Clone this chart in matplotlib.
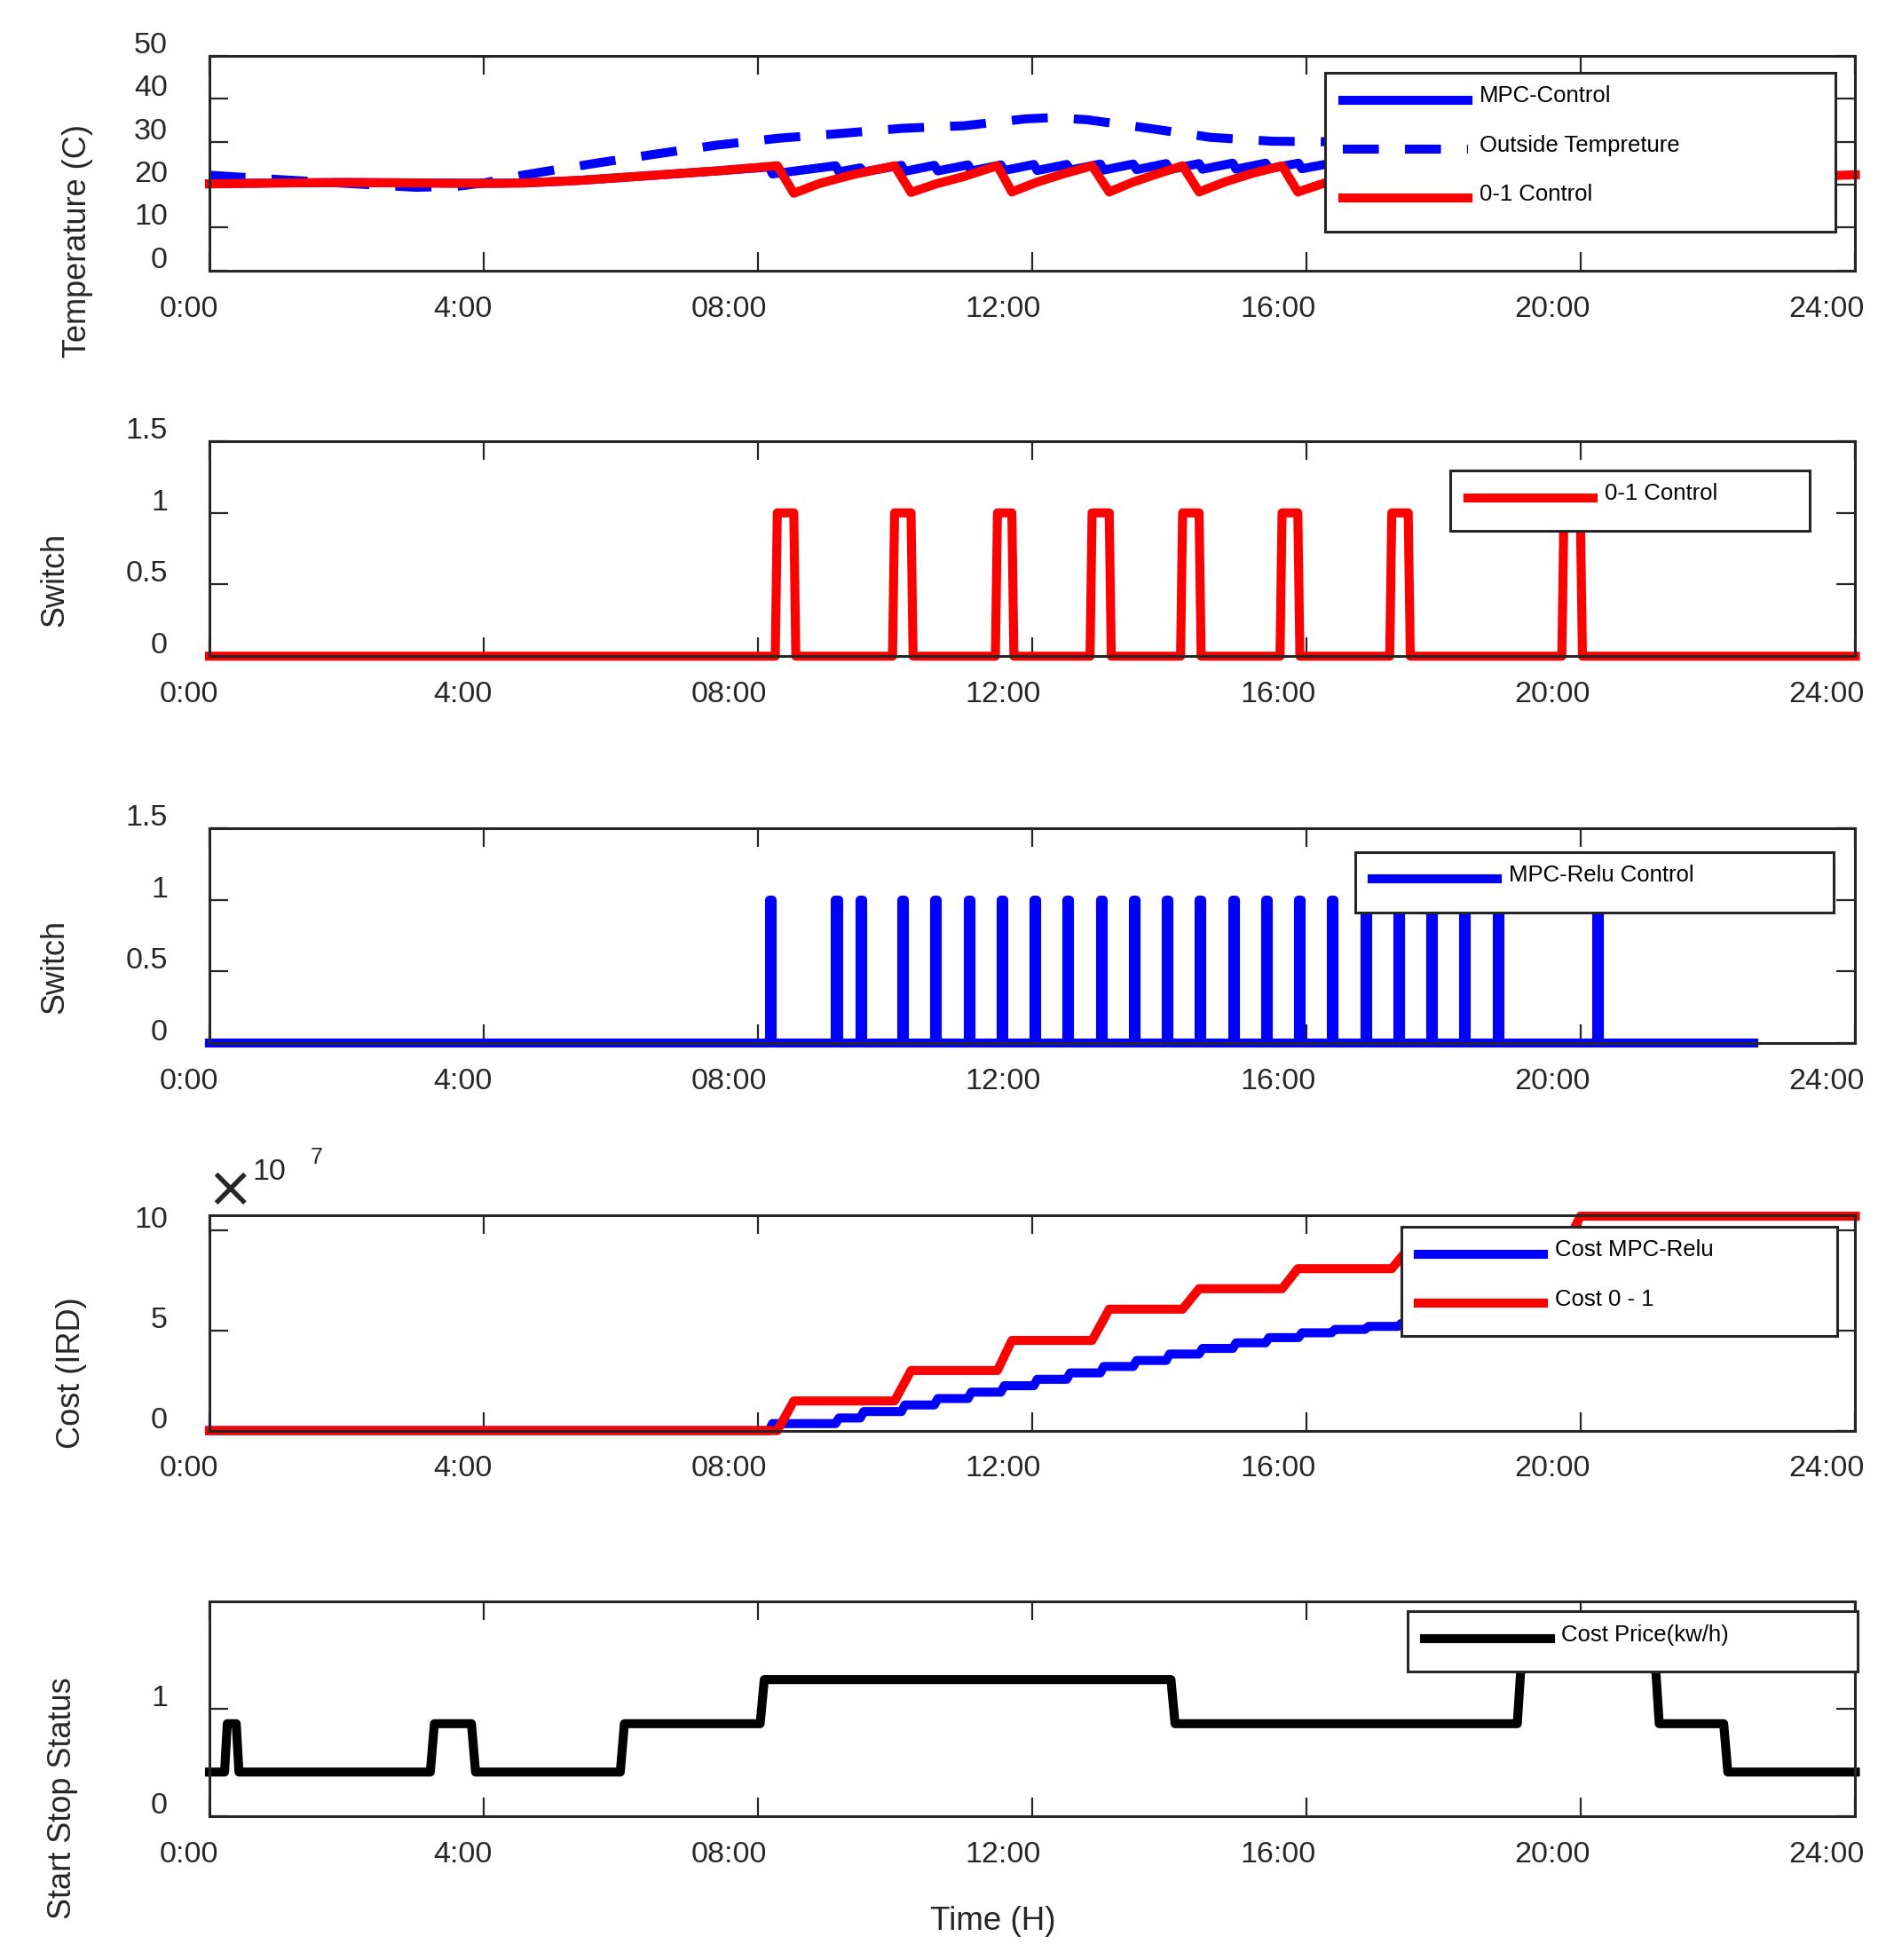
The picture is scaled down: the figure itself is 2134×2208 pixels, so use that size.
import matplotlib
matplotlib.use('Agg')
import matplotlib.pyplot as plt
from matplotlib.transforms import ScaledTranslation

plt.rcParams['font.family'] = ['Liberation Sans', 'DejaVu Sans']

EDGE = '#262626'

hour_ticks = [0, 4, 8, 12, 16, 20, 24]
hour_labels = ['0:00', '4:00', '08:00', '12:00', '16:00', '20:00', '24:00']

# room temperature with the 0-1 controller (breakpoints)
red_temp_t = [0, 1, 2, 3, 4, 4.6, 5.4, 6.5, 7.4, 8.28, 8.52, 8.9, 9.4, 9.99,
              10.23, 10.6, 11.0, 11.49, 11.70, 12.05, 12.45, 12.87, 13.12,
              13.45, 13.8, 14.19, 14.43, 14.8, 15.2, 15.64, 15.87, 16.3,
              16.75, 17.24, 17.48, 17.9, 18.6, 19.75, 19.99, 20.6, 22.0, 24.0]
red_temp = [20.2, 20.4, 20.5, 20.4, 20.3, 20.4, 21.0, 22.2, 23.2, 24.4, 18.0,
            20.3, 22.4, 24.4, 18.2, 20.2, 21.9, 24.4, 18.3, 20.5, 22.5, 24.4,
            18.3, 20.5, 22.4, 24.4, 18.3, 20.6, 22.6, 24.4, 18.3, 20.6, 22.5,
            24.4, 18.3, 20.4, 22.6, 24.4, 18.3, 19.8, 21.2, 22.3]

# outside temperature
out_t = [0, 1.1, 2.0, 3.0, 3.6, 4.0, 4.6, 5.6, 6.5, 7.4, 8.3, 9.2, 10.1,
         11.0, 11.9, 12.3, 12.8, 13.7, 14.6, 15.5, 16.2, 17.0, 18.5, 20.0, 22.5]
out_temp = [22.2, 21.1, 20.3, 19.4, 19.6, 20.4, 22.3, 24.9, 27.1, 29.2, 30.8,
            31.9, 33.1, 33.7, 35.3, 35.6, 35.1, 33.1, 31.0, 30.1, 30.0, 29.8,
            28.5, 27.0, 24.0]

# MPC-Relu switching instants (h), temperature just before / after each one
mpc_on = [8.16, 9.13, 9.49, 10.09, 10.57, 11.06, 11.54, 12.02, 12.50, 12.99,
          13.47, 13.95, 14.43, 14.92, 15.40, 15.88, 16.36, 16.85, 17.33,
          17.81, 18.29, 18.78, 20.23]
mpc_peak = [24.1, 24.4, 23.9, 24.5, 24.5, 24.6, 24.6, 24.7, 24.7, 24.8, 24.8,
            24.9, 24.9, 25.0, 25.0, 25.0, 25.0, 25.0, 25.0, 25.0, 25.0, 25.0, 25.3]
mpc_low = [22.5, 23.0, 23.0, 23.1, 23.2, 23.2, 23.3, 23.3, 23.4, 23.4, 23.5,
           23.5, 23.6, 23.6, 23.7, 23.7, 23.7, 23.7, 23.7, 23.7, 23.7, 23.7, 23.7]
mpc_end_t = 22.5
mpc_end_temp = 24.6

# 0-1 controller on / off times (h)
red_on = [8.28, 9.99, 11.49, 12.87, 14.19, 15.64, 17.24, 19.75]
red_off = [8.52, 10.23, 11.70, 13.12, 14.43, 15.87, 17.48, 19.99]

# cumulative cost (x 1e7) after each switching
cost_red = [1.48, 3.0, 4.5, 6.06, 7.08, 8.08, 9.08, 10.7]
cost_mpc = [0.35, 0.63, 0.95, 1.28, 1.6, 1.92, 2.24, 2.56, 2.88, 3.2, 3.5,
            3.82, 4.1, 4.38, 4.64, 4.88, 5.05, 5.2, 5.35, 5.5, 5.65, 5.8, 6.0]

# electricity price schedule
price_t = [0, 0.22, 0.26, 0.39, 0.43, 3.22, 3.28, 3.82, 3.88, 5.99, 6.05,
           8.03, 8.09, 14.02, 14.08, 19.07, 19.13, 21.08, 21.14, 22.08, 22.14, 24]
price = [0.41, 0.41, 0.86, 0.86, 0.41, 0.41, 0.86, 0.86, 0.41, 0.41, 0.86,
         0.86, 1.27, 1.27, 0.86, 0.86, 1.45, 1.45, 0.86, 0.86, 0.41, 0.41]


# --- build polylines from the event lists ---
mpc_t = [t for t in red_temp_t if t < mpc_on[0]]
mpc_temp = [v for t, v in zip(red_temp_t, red_temp) if t < mpc_on[0]]
for t, hi, lo in zip(mpc_on, mpc_peak, mpc_low):
    mpc_t += [t, t + 0.05]
    mpc_temp += [hi, lo]
mpc_t.append(mpc_end_t)
mpc_temp.append(mpc_end_temp)

sw_red_t, sw_red = [0], [0]
for a, b in zip(red_on, red_off):
    sw_red_t += [a - 0.03, a, b, b + 0.03]
    sw_red += [0, 1, 1, 0]
sw_red_t.append(24)
sw_red.append(0)

sw_mpc_t, sw_mpc = [0], [0]
for a in mpc_on:
    sw_mpc_t += [a, a, a + 0.04, a + 0.04]
    sw_mpc += [0, 1, 1, 0]
sw_mpc_t.append(22.52)
sw_mpc.append(0)

c_red_t, c_red = [0], [0]
prev = 0
for a, b, c in zip(red_on, red_off, cost_red):
    c_red_t += [a, b]
    c_red += [prev, c]
    prev = c
c_red_t.append(24)
c_red.append(prev)

c_mpc_t, c_mpc = [0], [0]
prev = 0
for a, c in zip(mpc_on, cost_mpc):
    c_mpc_t += [a, a + 0.05]
    c_mpc += [prev, c]
    prev = c
c_mpc_t.append(22.5)
c_mpc.append(prev)


fig = plt.figure(figsize=(21.34, 22.08), dpi=100)
L, W, H = 0.1106, 0.8690, 0.1097
bottoms = [0.8619, 0.6652, 0.4678, 0.2701, 0.0734]
axs = [fig.add_axes([L, b, W, H]) for b in bottoms]

LW = 7.3
kw = dict(lw=LW, solid_joinstyle='round', clip_on=False)


def style(ax, yticks, ylabels, ylim, ylabel, lab_xy):
    ax.set_xlim(0, 24)
    ax.set_ylim(*ylim)
    ax.set_xticks(hour_ticks)
    ax.set_xticklabels(hour_labels)
    ax.set_yticks(yticks)
    ax.set_yticklabels(ylabels)
    ax.tick_params(direction='in', top=True, right=True, length=15, width=1.6,
                   color=EDGE, labelsize=24.5, labelcolor=EDGE)
    ax.tick_params(axis='x', pad=20)
    ax.tick_params(axis='y', pad=34)
    for s in ax.spines.values():
        s.set_linewidth(2.2)
        s.set_color(EDGE)
    for lab in ax.get_xticklabels():
        lab.set_ha('right')
        lab.set_transform(lab.get_transform() +
                          ScaledTranslation(0.10, 0, fig.dpi_scale_trans))
    for lab in ax.get_yticklabels():
        lab.set_transform(lab.get_transform() +
                          ScaledTranslation(0, 0.15, fig.dpi_scale_trans))
    ax.set_ylabel(ylabel, fontsize=26, va='center', color=EDGE)
    ax.yaxis.set_label_coords(*lab_xy)


def legend(ax, x0, y0, w, h):
    leg = ax.legend(loc='upper left', bbox_to_anchor=(x0, y0, w, h),
                    mode='expand', fontsize=18.5, handlelength=5.5,
                    handleheight=1.4, handletextpad=0.5, borderpad=0.75,
                    labelspacing=1.0, fancybox=False, framealpha=1,
                    edgecolor=EDGE, borderaxespad=0)
    leg.get_frame().set_linewidth(2.2)
    # MATLAB draws the entry text a little above its sample line
    for t in leg.get_texts():
        t.set_transform(t.get_transform() +
                        ScaledTranslation(0, 0.09, fig.dpi_scale_trans))
    return leg


# temperature
ax = axs[0]
ax.plot(mpc_t, mpc_temp, color='b', label='MPC-Control', **kw)
ax.plot(out_t, out_temp, color='b', lw=LW, ls=(0, (4.0, 2.9)),
        dash_capstyle='butt', clip_on=False, label='Outside Tempreture')
ax.plot(red_temp_t, red_temp, color='r', label='0-1 Control', **kw)
style(ax, [0, 10, 20, 30, 40, 50], ['0', '10', '20', '30', '40', '50'],
      (0, 50), 'Temperature (C)', (-0.080, 0.14))
legend(ax, 0.678, 0.19, 0.31, 0.732)

# switch 0-1
ax = axs[1]
ax.plot(sw_red_t, sw_red, color='r', label='0-1 Control', **kw)
style(ax, [0, 0.5, 1, 1.5], ['0', '0.5', '1', '1.5'], (0, 1.5),
      'Switch', (-0.0937, 0.357))
legend(ax, 0.754, 0.585, 0.218, 0.28)

# switch MPC
ax = axs[2]
ax.plot(sw_mpc_t, sw_mpc, color='b', label='MPC-Relu Control', **kw)
style(ax, [0, 0.5, 1, 1.5], ['0', '0.5', '1', '1.5'], (0, 1.5),
      'Switch', (-0.0937, 0.357))
legend(ax, 0.696, 0.61, 0.291, 0.28)

# cost
ax = axs[3]
ax.plot(c_mpc_t, c_mpc, color='b', label='Cost MPC-Relu', **kw)
ax.plot(c_red_t, c_red, color='r', label='Cost 0 - 1', **kw)
style(ax, [0, 5, 10], ['0', '5', '10'], (0, 10.73), 'Cost (IRD)',
      (-0.0839, 0.268))
legend(ax, 0.724, 0.433, 0.265, 0.516)
ax.text(0.0122, 1.119, '\u00d7', transform=ax.transAxes, fontsize=46,
        family='DejaVu Sans', ha='center', va='center', color=EDGE)
ax.text(0.0362, 1.203, '10', transform=ax.transAxes, fontsize=24.5,
        ha='center', va='center', color=EDGE)
ax.text(0.0649, 1.27, '7', transform=ax.transAxes, fontsize=18,
        ha='center', va='center', color=EDGE)

# price
ax = axs[4]
ax.plot(price_t, price, color='k', label='Cost Price(kw/h)', **kw)
style(ax, [0, 1], ['0', '1'], (0, 2), 'Start Stop Status', (-0.0893, 0.083))
legend(ax, 0.728, 0.675, 0.2736, 0.278)
ax.set_xlabel('Time (H)', fontsize=26.5, va='center', color=EDGE)
ax.xaxis.set_label_coords(0.476, -0.49)

fig.savefig('out.png', dpi=100)
